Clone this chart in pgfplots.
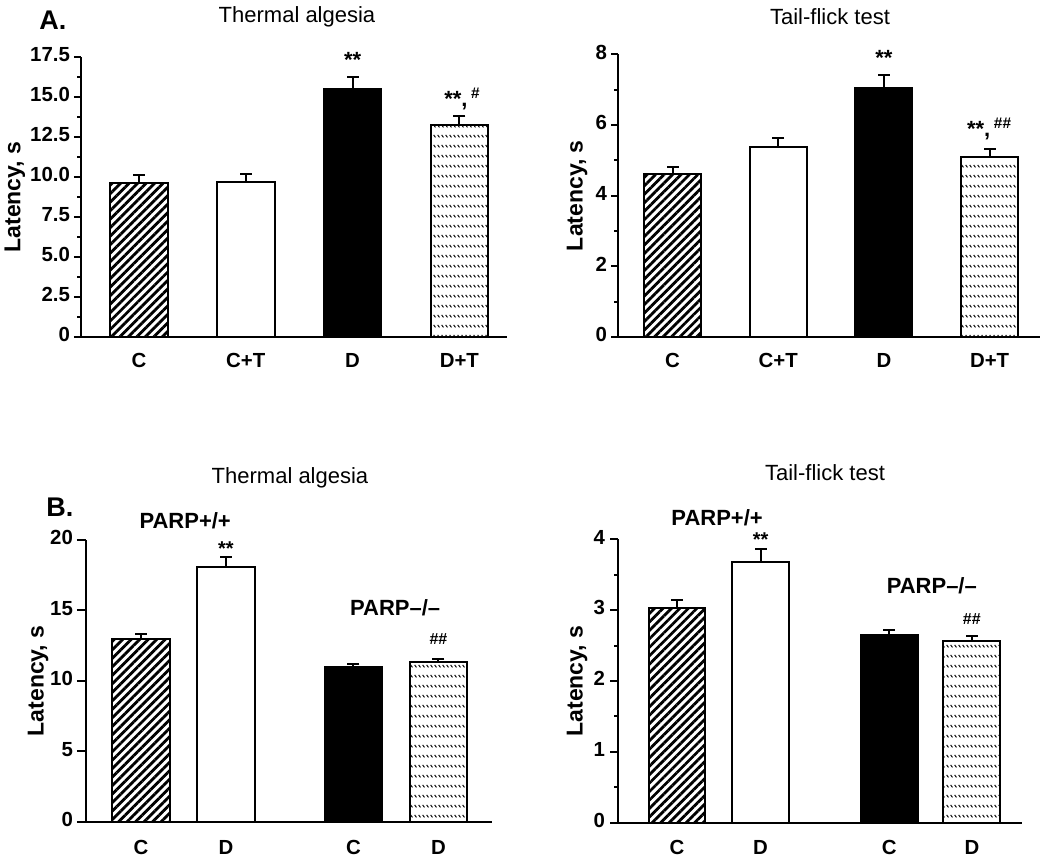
\documentclass[border=0pt]{standalone}
\usepackage{pgfplots}
\pgfplotsset{compat=1.18}
\usepackage{fontspec}
\setmainfont{Liberation Sans}
\usetikzlibrary{patterns,patterns.meta}

\pgfdeclarepatternformonly{dashrows}{\pgfpoint{0pt}{0pt}}{\pgfpoint{1.9pt}{5.1pt}}{\pgfpoint{1.9pt}{5.1pt}}{
  \pgfsetlinewidth{0.5pt}
  \pgfpathmoveto{\pgfpoint{0.35pt}{4.85pt}}
  \pgfpathlineto{\pgfpoint{1.3pt}{3.55pt}}
  \pgfusepath{stroke}
}

\tikzset{
  bigstar/.style={font=\fontsize{11}{13}\selectfont\bfseries},
  smallstar/.style={font=\fontsize{10}{12}\selectfont\bfseries},
  parp/.style={font=\fontsize{11}{13}\selectfont\bfseries},
}

\pgfplotsset{
  barpanel/.style={
    scale only axis,
    anchor=south west,
    axis x line=bottom, axis y line=left,
    axis line style={-, line width=1pt},
    tick align=outside,
    major tick length=3.5pt, minor tick length=2pt,
    every tick/.style={line width=1pt, black},
    major x tick style={draw=none},
    /pgf/number format/assume math mode=true,
    ticklabel style={font=\fontsize{10.2}{12}\selectfont\bfseries},
    typeset ticklabels with strut,
    ylabel style={font=\fontsize{11.5}{13}\selectfont\bfseries, anchor=center},
    clip=false,
    axis on top,
    ymin=0,
  },
  cbar/.style={ybar, bar shift=0pt, draw=black, line width=1pt, pattern={Lines[angle=45,distance=3pt,line width=1.4pt]}},
  wbar/.style={ybar, bar shift=0pt, draw=black, line width=1pt, fill=white},
  kbar/.style={ybar, bar shift=0pt, draw=black, line width=1pt, fill=black},
  dbar/.style={ybar, bar shift=0pt, draw=black, line width=1pt, pattern=dashrows},
  errs/.style={error bars/.cd, y dir=plus, y explicit, error mark=none, error bar style={line width=1pt, black}},
  caps/.style={only marks, mark=-, mark size=3pt, mark options={line width=1pt, black}},
}

\begin{document}
\begin{tikzpicture}
\path[use as bounding box] (0,0) rectangle (525pt,432pt);

% ---------- Panel A, left ----------
\begin{axis}[barpanel, at={(40.5pt,263.5pt)}, width=213pt, height=140pt,
  xmin=-0.543, xmax=3.446, ymax=17.5,
  x axis line style={shorten <=-2.5pt},
  yticklabel style={xshift=1.5pt},
  xtick={0,1,2,3}, xticklabels={C,C+T,D,D+T},
  ytick={0,2.5,5,7.5,10,12.5,15,17.5},
  yticklabels={0,2.5,5.0,7.5,10.0,12.5,15.0,17.5},
  minor y tick num=1,
  ylabel={Latency, s}, ylabel style={at={(axis description cs:-0.155,0.5)}},
  bar width=0.54]
\addplot[cbar, errs] coordinates {(0,9.64) +- (0,0.50)};
\addplot[wbar, errs] coordinates {(1,9.69) +- (0,0.50)};
\addplot[kbar, errs] coordinates {(2,15.50) +- (0,0.75)};
\addplot[dbar, errs] coordinates {(3,13.25) +- (0,0.55)};
\addplot[caps] coordinates {(0,10.14) (1,10.19) (2,16.25) (3,13.80)};
\node[bigstar] at (axis cs:2,17.3) {**};
\node[bigstar] at (axis cs:3.03,14.9) {**,\,\textsuperscript{\#}};
\end{axis}

% ---------- Panel A, right ----------
\begin{axis}[barpanel, at={(309pt,263.5pt)}, width=211pt, height=141.35pt,
  xmin=-0.516, xmax=3.477, ymax=8,
  x axis line style={shorten <=-2pt},
  yticklabel style={xshift=1.5pt},
  xtick={0,1,2,3}, xticklabels={C,C+T,D,D+T},
  ytick={0,2,4,6,8}, yticklabels={0,2,4,6,8},
  minor y tick num=1,
  ylabel={Latency, s}, ylabel style={at={(axis description cs:-0.097,0.5)}},
  bar width=0.54]
\addplot[cbar, errs] coordinates {(0,4.62) +- (0,0.20)};
\addplot[wbar, errs] coordinates {(1,5.39) +- (0,0.25)};
\addplot[kbar, errs] coordinates {(2,7.04) +- (0,0.37)};
\addplot[dbar, errs] coordinates {(3,5.08) +- (0,0.25)};
\addplot[caps] coordinates {(0,4.82) (1,5.64) (2,7.41) (3,5.33)};
\node[bigstar] at (axis cs:2,7.9) {**};
\node[bigstar] at (axis cs:3.0,5.9) {**,\,\textsuperscript{\#\#}};
\end{axis}

% ---------- Panel B, left ----------
\begin{axis}[barpanel, at={(43pt,21.15pt)}, width=203pt, height=140.85pt,
  xmin=-0.647, xmax=4.13, ymax=20,
  x axis line style={shorten <=-4pt},
  major tick length=4.5pt,
  yticklabel style={xshift=1.5pt},
  xtick={0,1,2.5,3.5}, xticklabels={C,D,C,D},
  ytick={0,5,10,15,20}, yticklabels={0,5,10,15,20},
  ylabel={Latency, s}, ylabel style={at={(axis description cs:-0.118,0.5)}},
  bar width=0.68]
\addplot[cbar, errs] coordinates {(0,12.97) +- (0,0.38)};
\addplot[wbar, errs] coordinates {(1,18.11) +- (0,0.70)};
\addplot[kbar, errs] coordinates {(2.5,10.99) +- (0,0.21)};
\addplot[dbar, errs] coordinates {(3.5,11.36) +- (0,0.19)};
\addplot[caps] coordinates {(0,13.35) (1,18.81) (2.5,11.20) (3.5,11.55)};
\node[parp] at (axis cs:0.52,21.4) {PARP+/+};
\node[parp] at (axis cs:2.99,15.2) {PARP\textendash/\textendash};
\node[smallstar] at (axis cs:1,19.4) {**};
\node[font=\fontsize{8}{10}\selectfont\bfseries] at (axis cs:3.5,13.0) {\#\#};
\end{axis}

% ---------- Panel B, right ----------
\begin{axis}[barpanel, at={(309pt,20.65pt)}, width=202pt, height=141.7pt,
  xmin=-0.707, xmax=4.13, ymax=4,
  x axis line style={shorten <=-1.5pt},
  major tick length=4pt,
  yticklabel style={xshift=1pt},
  xtick={0,1,2.54,3.53}, xticklabels={C,D,C,D},
  ytick={0,1,2,3,4}, yticklabels={0,1,2,3,4},
  minor y tick num=1,
  ylabel={Latency, s}, ylabel style={at={(axis description cs:-0.101,0.5)}},
  bar width=0.68]
\addplot[cbar, errs] coordinates {(0,3.03) +- (0,0.11)};
\addplot[wbar, errs] coordinates {(1,3.68) +- (0,0.19)};
\addplot[kbar, errs] coordinates {(2.54,2.65) +- (0,0.07)};
\addplot[dbar, errs] coordinates {(3.53,2.56) +- (0,0.07)};
\addplot[caps] coordinates {(0,3.14) (1,3.87) (2.54,2.72) (3.53,2.63)};
\node[parp] at (axis cs:0.48,4.31) {PARP+/+};
\node[parp] at (axis cs:3.05,3.35) {PARP\textendash/\textendash};
\node[smallstar] at (axis cs:1,3.99) {**};
\node[font=\fontsize{8}{10}\selectfont\bfseries] at (axis cs:3.53,2.87) {\#\#};
\end{axis}

% ---------- titles and panel letters ----------
\node[font=\fontsize{11}{13}\selectfont] at (148.5pt,423.5pt) {Thermal algesia};
\node[font=\fontsize{11}{13}\selectfont] at (415pt,423.5pt) {Tail-flick test};
\node[font=\fontsize{11}{13}\selectfont] at (145pt,193pt) {Thermal algesia};
\node[font=\fontsize{11}{13}\selectfont] at (412.5pt,195.5pt) {Tail-flick test};
\node[font=\fontsize{13.5}{15}\selectfont\bfseries] at (26.5pt,422pt) {A.};
\node[font=\fontsize{13.5}{15}\selectfont\bfseries] at (30pt,178.5pt) {B.};
\end{tikzpicture}
\end{document}
